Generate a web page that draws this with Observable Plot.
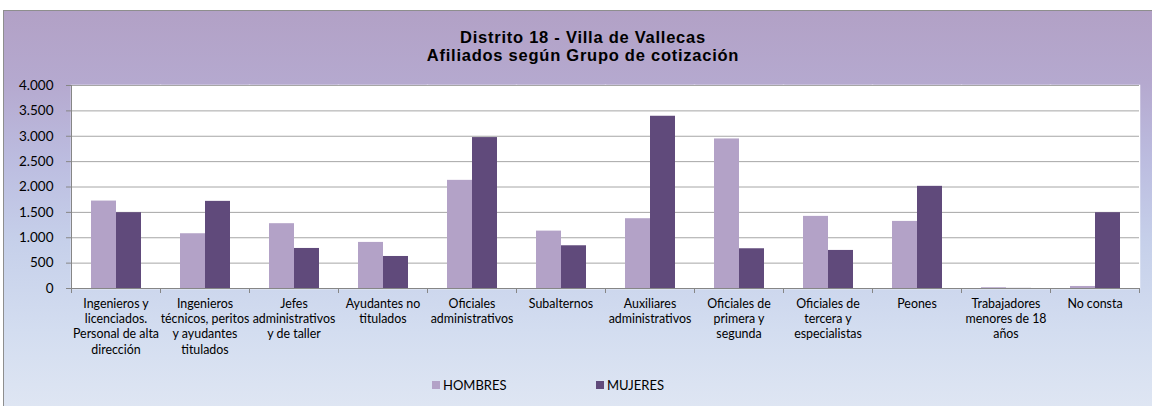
<!DOCTYPE html>
<html>
<head>
<meta charset="utf-8">
<script src="https://cdn.jsdelivr.net/npm/d3@7"></script>
<script src="https://cdn.jsdelivr.net/npm/@observablehq/plot@0.6"></script>
<style>
  body { margin:0; width:1152px; height:406px; overflow:hidden; position:relative; background:#fff; }
  #bg { position:absolute; left:3px; top:10px; width:1190px; height:400px; border:1px solid #8e8e8e;
        background:linear-gradient(to bottom, #b2a1c6 0%, #b5a9cf 18%, #bcbde0 38%, #c6d0ea 58%, #d3ddf0 80%, #dfe6f3 100%); }
  #title { position:absolute; left:0; top:28px; width:1166px; text-align:center;
           font-family:"Liberation Sans", Arial, sans-serif; font-weight:bold; font-size:16.5px; letter-spacing:0.75px; line-height:18px; color:#000; }
  #chart { position:absolute; left:0; top:0; }
  .leg { position:absolute; top:377px; font-family:Lato, sans-serif; font-size:13px; color:#000; display:flex; align-items:center; }
  .leg span.sw { display:inline-block; width:8px; height:8px; margin-right:3px; }
</style>
</head>
<body>
<div id="bg"></div>
<div id="title">Distrito 18 - Villa de Vallecas<br>Afiliados según Grupo de cotización</div>
<div id="chart"></div>
<div id="legend"></div>
<script>
const categories = [
  "Ingenieros y licenciados. Personal de alta dirección",
  "Ingenieros técnicos, peritos y ayudantes titulados",
  "Jefes administrativos y de taller",
  "Ayudantes no titulados",
  "Oficiales administrativos",
  "Subalternos",
  "Auxiliares administrativos",
  "Oficiales de primera y segunda",
  "Oficiales de tercera y especialistas",
  "Peones",
  "Trabajadores menores de 18 años",
  "No consta"
];
const categoryLabels = [
  "Ingenieros y\nlicenciados.\nPersonal de alta\ndirección",
  "Ingenieros\ntécnicos, peritos\ny ayudantes\ntitulados",
  "Jefes\nadministrativos\ny de taller",
  "Ayudantes no\ntitulados",
  "Oficiales\nadministrativos",
  "Subalternos",
  "Auxiliares\nadministrativos",
  "Oficiales de\nprimera y\nsegunda",
  "Oficiales de\ntercera y\nespecialistas",
  "Peones",
  "Trabajadores\nmenores de 18\naños",
  "No consta"
];
const series = ["HOMBRES", "MUJERES"];
const hombres = [1723, 1079, 1277, 908, 2131, 1131, 1375, 2947, 1421, 1322, 15, 40];
const mujeres = [1494, 1717, 789, 631, 2974, 842, 3394, 783, 750, 2013, 2, 1494];
const colors = ["#b3a2c7", "#604a7b"];
const yTicks = [0, 500, 1000, 1500, 2000, 2500, 3000, 3500, 4000];

const data = [];
categories.forEach((c, i) => {
  data.push({cat: c, sex: series[0], value: hombres[i]});
  data.push({cat: c, sex: series[1], value: mujeres[i]});
});

const esFormat = d3.formatLocale({decimal: ",", thousands: ".", grouping: [3], currency: ["", "€"]}).format(",d");
const labelOf = new Map(categories.map((c, i) => [c, categoryLabels[i]]));

const chart = Plot.plot({
  width: 1152,
  height: 375,
  marginLeft: 67,
  marginRight: 10,
  marginTop: 85,
  marginBottom: 87,
  style: {background: "transparent", fontFamily: "Lato, sans-serif", fontSize: "12px", color: "#000", overflow: "visible"},
  fx: {domain: categories, padding: 0, label: null},
  x: {domain: series, paddingInner: 0, paddingOuter: 0.76, axis: null},
  y: {domain: [0, 4000], label: null},
  color: {domain: series, range: colors},
  marks: [
    Plot.frame({fill: "white", stroke: "white", strokeWidth: 1.5}),
    Plot.gridY(yTicks, {stroke: "#a6a6a6", strokeOpacity: 1}),
    Plot.barY(data, {fx: "cat", x: "sex", y: "value", fill: "sex"}),
    Plot.ruleY([0], {stroke: "#868686"}),
    Plot.frame({anchor: "left", stroke: "#868686", insetTop: 203, insetBottom: -4}),
    Plot.frame({anchor: "right", stroke: "#868686", insetTop: 203, insetBottom: -4}),
    Plot.frame({anchor: "left", stroke: "#868686", fx: () => categories[0]}),
    Plot.axisY(yTicks, {tickSize: 5, tickPadding: 13, tickFormat: esFormat, stroke: "#868686", fontSize: 13.5, color: "#000"}),
    Plot.axisFx({anchor: "bottom", tickSize: 0, tickPadding: 9, label: null, tickFormat: (d) => labelOf.get(d), lineHeight: 1.22, fontSize: 12.4})
  ]
});
document.getElementById("chart").appendChild(chart);

const legend = document.getElementById("legend");
const legLeft = [432, 596];
series.forEach((s, i) => {
  const item = document.createElement("div");
  item.className = "leg";
  item.style.left = legLeft[i] + "px";
  item.innerHTML = `<span class="sw" style="background:${colors[i]}"></span>${s}`;
  legend.appendChild(item);
});
</script>
</body>
</html>
